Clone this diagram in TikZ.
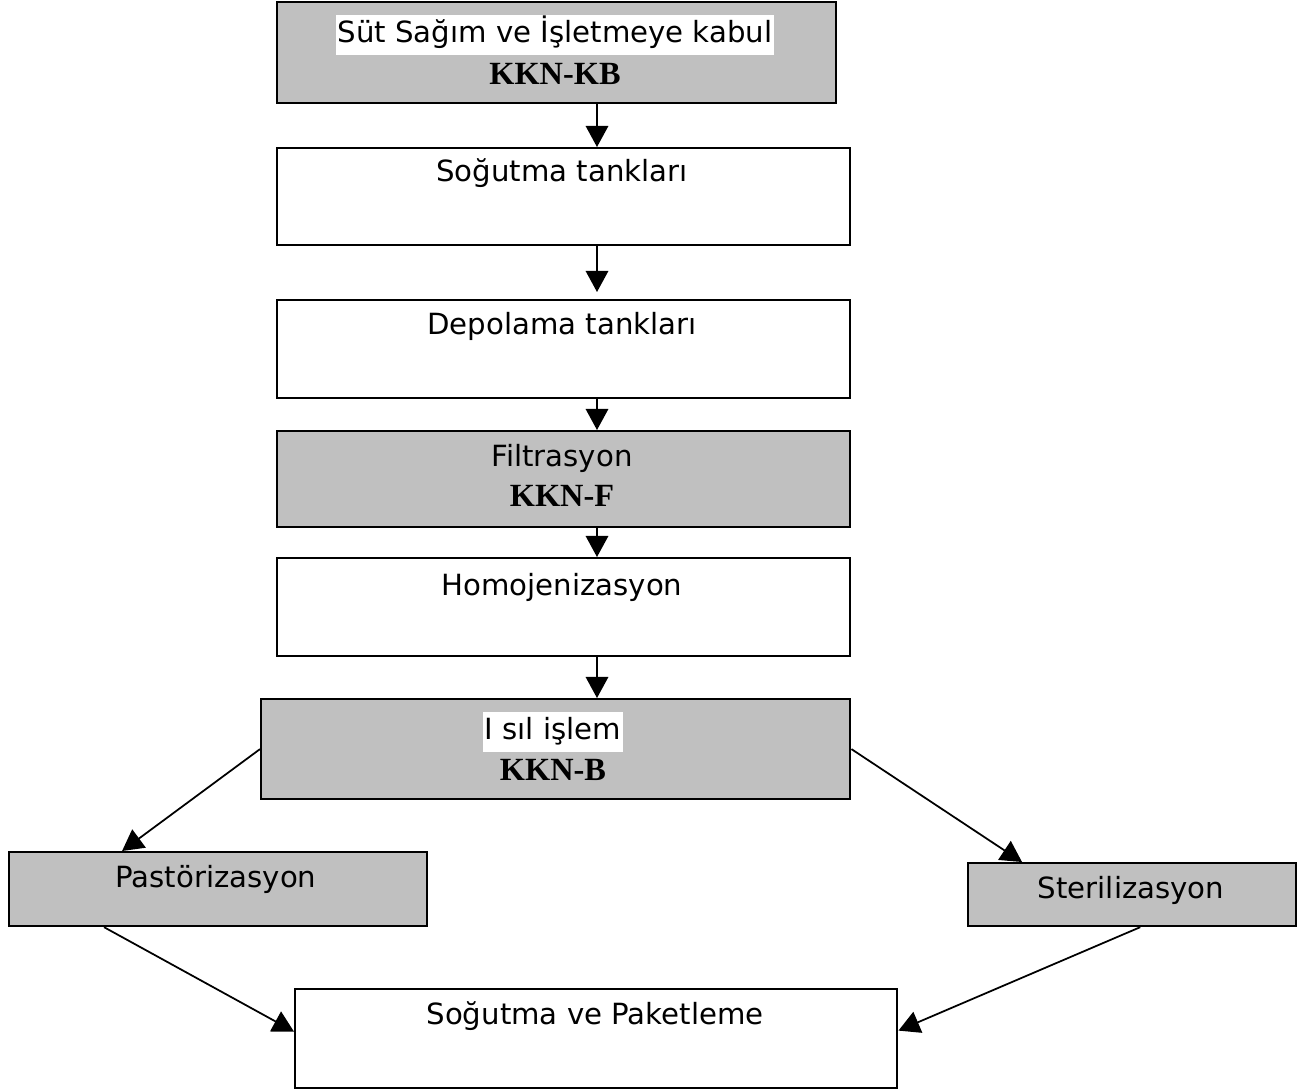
\documentclass[tikz,border=0pt]{standalone}
\usepackage{fontspec}
\setmainfont{DejaVu Sans}
\newfontfamily\kknfont{Liberation Serif}
\usetikzlibrary{arrows.meta}
\definecolor{gri}{HTML}{C0C0C0}

\begin{document}
\begin{tikzpicture}[x=0.01cm,y=-0.01cm,
  kutu/.style={draw,line width=0.6pt,anchor=north west,inner sep=0pt},
  grikutu/.style={kutu,fill=gri},
  yazi/.style={font=\fontsize{8.3}{10}\selectfont,inner sep=0.5pt,text height=6.3pt,text depth=2pt},
  vurgu/.style={yazi,fill=white,inner ysep=1.6pt},
  kkn/.style={font=\kknfont\bfseries\fontsize{9.2}{11}\selectfont,inner sep=0.5pt},
  ok/.style={-{Triangle[length=6pt,width=6.4pt]},line width=0.5pt}]
\useasboundingbox (0,0) rectangle (1303,1090);
% kutular
\node[grikutu,minimum width=5.59cm,minimum height=1.01cm] (kabul) at (276,1) {};
\node[kutu,minimum width=5.73cm,minimum height=0.97cm] (sogutma) at (276,147) {};
\node[kutu,minimum width=5.73cm,minimum height=0.98cm] (depolama) at (276,299) {};
\node[grikutu,minimum width=5.73cm,minimum height=0.96cm] (filtre) at (276,430) {};
\node[kutu,minimum width=5.73cm,minimum height=0.98cm] (homojen) at (276,557) {};
\node[grikutu,minimum width=5.89cm,minimum height=1.00cm] (isil) at (260,698) {};
\node[grikutu,minimum width=4.18cm,minimum height=0.74cm] (pastor) at (8,851) {};
\node[grikutu,minimum width=3.28cm,minimum height=0.63cm] (steril) at (967,862) {};
\node[kutu,minimum width=6.02cm,minimum height=0.99cm] (paket) at (294,988) {};
% yazilar
\node[vurgu] (kabulT) at (555,35) {Süt Sağım ve İşletmeye kabul};
\node[kkn] (kabulK) at (555,74) {KKN-KB};
\node[yazi] (sogutmaT) at (562,174) {Soğutma tankları};
\node[yazi] (depolamaT) at (562,327) {Depolama tankları};
\node[yazi] (filtreT) at (562,459) {Filtrasyon};
\node[kkn] (filtreK) at (562,496) {KKN-F};
\node[yazi] (homojenT) at (562,588) {Homojenizasyon};
\node[vurgu] (isilT) at (553,732) {I sıl işlem};
\node[kkn] (isilK) at (553,770) {KKN-B};
\node[yazi] (pastorT) at (216,880) {Pastörizasyon};
\node[yazi] (sterilT) at (1131,891) {Sterilizasyon};
\node[yazi] (paketT) at (595,1017) {Soğutma ve Paketleme};
% oklar
\coordinate (eksen) at (597,0);
\draw[ok] (kabul.south -| eksen) -- (sogutma.north -| eksen);
\draw[ok] (sogutma.south -| eksen) -- ([yshift=0.07cm]depolama.north -| eksen);
\draw[ok] (depolama.south -| eksen) -- (filtre.north -| eksen);
\draw[ok] (filtre.south -| eksen) -- (homojen.north -| eksen);
\draw[ok] (homojen.south -| eksen) -- (isil.north -| eksen);
\draw[ok] (isil.west) -- ([xshift=1.14cm]pastor.north west);
\draw[ok] (isil.east) -- ([xshift=0.55cm]steril.north west);
\draw[ok] ([xshift=0.96cm]pastor.south west) -- ([yshift=0.07cm]paket.west);
\draw[ok] ([xshift=-1.57cm]steril.south east) -- ([yshift=0.08cm]paket.east);
\end{tikzpicture}
\end{document}
